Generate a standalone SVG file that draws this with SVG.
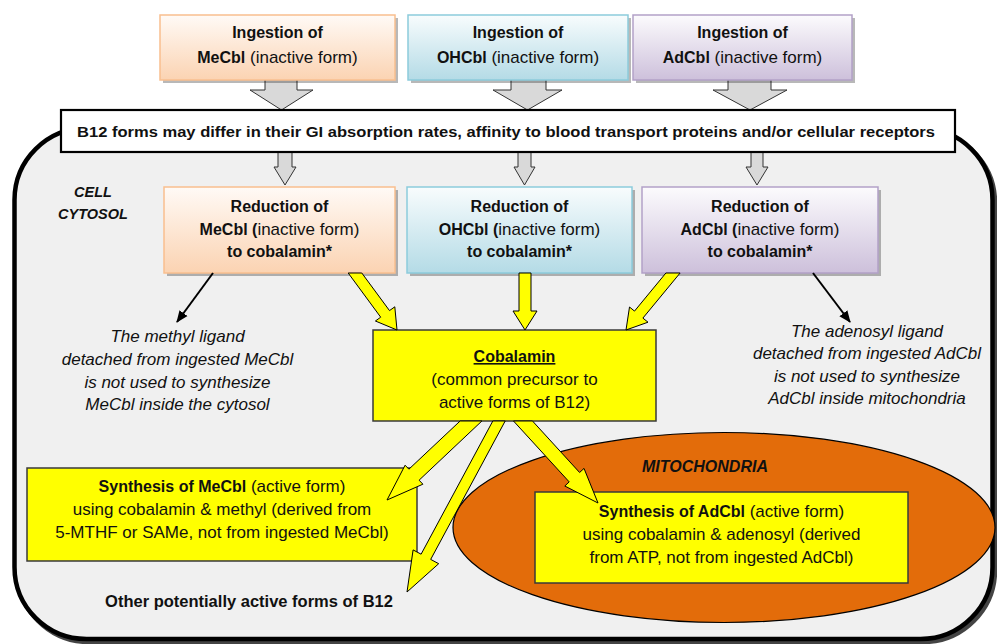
<svg xmlns="http://www.w3.org/2000/svg" width="997" height="644" viewBox="0 0 997 644">
<style>
text{font-family:"Liberation Sans",Arial,sans-serif;fill:#111}
.b{font-weight:bold;font-size:16px}
.r{font-weight:normal;font-size:17px}
.it{font-style:italic;font-size:17px}
.bi{font-style:italic;font-weight:bold}
.c{text-anchor:middle}
.ya{fill:#ffff00;stroke:#000;stroke-width:1}
.ga{fill:#d9d9d9;stroke:#333;stroke-width:1}
.sh{fill:#000;opacity:.28}
.yb{fill:#ffff00;stroke:#3a3a3a;stroke-width:1.5}
</style>
<defs>
<linearGradient id="gO" x1="0" y1="0" x2="0" y2="1"><stop offset="0" stop-color="#fffaf6"/><stop offset="1" stop-color="#fbd3b2"/></linearGradient>
<linearGradient id="gB" x1="0" y1="0" x2="0" y2="1"><stop offset="0" stop-color="#f8fcfd"/><stop offset="1" stop-color="#b4dbe6"/></linearGradient>
<linearGradient id="gP" x1="0" y1="0" x2="0" y2="1"><stop offset="0" stop-color="#fcfbfd"/><stop offset="1" stop-color="#cdc0db"/></linearGradient>
<marker id="ah" markerUnits="userSpaceOnUse" markerWidth="12" markerHeight="12" viewBox="0 0 12 12" refX="11" refY="6" orient="auto"><path d="M0,1 L12,6 L0,11 z" fill="#000"/></marker>
</defs>
<rect x="0" y="0" width="997" height="644" fill="#fff"/>

<g id="cell">
<rect x="17" y="131" width="978" height="511" rx="72" ry="72" fill="none" stroke="#444" stroke-width="4.5"/>
<rect x="14.5" y="128" width="978" height="511" rx="72" ry="72" fill="#f0f0f0" stroke="#000" stroke-width="4.5"/>
<text class="bi c" x="93" y="197" font-size="14.5">CELL</text>
<text class="bi c" x="93" y="219" font-size="14.5">CYTOSOL</text>
</g>

<g id="mitochondria">
<ellipse cx="724" cy="527.5" rx="271" ry="95" fill="#e36c0a" stroke="#000" stroke-width="1.2"/>
<text class="bi c" x="705" y="472" font-size="16">MITOCHONDRIA</text>
</g>

<g id="connectors">
<polygon class="ga" points="265,78 265,90 250,90 281.5,110 313,90 297,90 297,78"/>
<polygon class="ga" points="511,78 511,90 493,90 527.5,110 562,90 546,90 546,78"/>
<polygon class="ga" points="728,78 728,90 713,90 750,110 787,90 771,90 771,78"/>
<polygon class="ga" points="278,150 278,167 274,167 285,185 296,167 292,167 292,150"/>
<polygon class="ga" points="518,150 518,167 514,167 524.5,185 535,167 531,167 531,150"/>
<polygon class="ga" points="751,150 751,167 746,167 757,185 768,167 763,167 763,150"/>
</g>

<g id="ing-mecbl">
<rect class="sh" x="163" y="18" width="235" height="65"/>
<rect x="160" y="15" width="235" height="65" fill="url(#gO)" stroke="#f9bf8f" stroke-width="1.5"/>
<text class="b c" x="277.5" y="38">Ingestion of</text>
<text class="c" x="277.5" y="63"><tspan class="b">MeCbl</tspan><tspan class="r"> (inactive form)</tspan></text>
</g>
<g id="ing-ohcbl">
<rect class="sh" x="411" y="18" width="220" height="65"/>
<rect x="408" y="15" width="220" height="65" fill="url(#gB)" stroke="#8ccbdb" stroke-width="1.5"/>
<text class="b c" x="518" y="38">Ingestion of</text>
<text class="c" x="518" y="63"><tspan class="b">OHCbl</tspan><tspan class="r"> (inactive form)</tspan></text>
</g>
<g id="ing-adcbl">
<rect class="sh" x="636" y="18" width="219" height="65"/>
<rect x="633" y="15" width="219" height="65" fill="url(#gP)" stroke="#b2a1c7" stroke-width="1.5"/>
<text class="b c" x="742.5" y="38">Ingestion of</text>
<text class="c" x="742.5" y="63"><tspan class="b">AdCbl</tspan><tspan class="r"> (inactive form)</tspan></text>
</g>

<g id="banner">
<rect x="61" y="110" width="894" height="42" fill="#fff" stroke="#000" stroke-width="2.2"/>
<text x="77" y="137" font-weight="bold" font-size="15.5" textLength="858" lengthAdjust="spacingAndGlyphs">B12 forms may differ in their GI absorption rates, affinity to blood transport proteins and/or cellular receptors</text>
</g>

<g id="red-mecbl">
<rect class="sh" x="167" y="190" width="231" height="86"/>
<rect x="164" y="187" width="231" height="86" fill="url(#gO)" stroke="#f9bf8f" stroke-width="1.5"/>
<text class="b c" x="279.5" y="212">Reduction of</text>
<text class="c" x="279.5" y="235"><tspan class="b">MeCbl (</tspan><tspan class="r">inactive form)</tspan></text>
<text class="b c" x="279.5" y="257">to cobalamin*</text>
</g>
<g id="red-ohcbl">
<rect class="sh" x="410" y="190" width="225" height="86"/>
<rect x="407" y="187" width="225" height="86" fill="url(#gB)" stroke="#8ccbdb" stroke-width="1.5"/>
<text class="b c" x="519.5" y="212">Reduction of</text>
<text class="c" x="519.5" y="235"><tspan class="b">OHCbl (</tspan><tspan class="r">inactive form)</tspan></text>
<text class="b c" x="519.5" y="257">to cobalamin*</text>
</g>
<g id="red-adcbl">
<rect class="sh" x="645" y="190" width="236" height="86"/>
<rect x="642" y="187" width="236" height="86" fill="url(#gP)" stroke="#b2a1c7" stroke-width="1.5"/>
<text class="b c" x="760" y="212">Reduction of</text>
<text class="c" x="760" y="235"><tspan class="b">AdCbl (</tspan><tspan class="r">inactive form)</tspan></text>
<text class="b c" x="760" y="257">to cobalamin*</text>
</g>

<g id="methyl-note">
<text class="it c" x="177.5" y="342">The methyl ligand</text>
<text class="it c" x="177.5" y="365">detached from ingested MeCbl</text>
<text class="it c" x="177.5" y="388">is not used to synthesize</text>
<text class="it c" x="177.5" y="410">MeCbl inside the cytosol</text>
</g>
<g id="adenosyl-note">
<text class="it c" x="867" y="337">The adenosyl ligand</text>
<text class="it c" x="867" y="359">detached from ingested AdCbl</text>
<text class="it c" x="867" y="382">is not used to synthesize</text>
<text class="it c" x="867" y="404">AdCbl inside mitochondria</text>
</g>

<g id="cobalamin">
<rect class="yb" x="373" y="330" width="283" height="91"/>
<text class="b c" x="514.5" y="362" text-decoration="underline">Cobalamin</text>
<text class="r c" x="514.5" y="385">(common precursor to</text>
<text class="r c" x="514.5" y="408">active forms of B12)</text>
</g>

<g id="syn-mecbl">
<rect class="yb" x="27" y="468" width="390" height="93"/>
<text class="c" x="222" y="492"><tspan class="b">Synthesis of MeCbl</tspan><tspan class="r"> (active form)</tspan></text>
<text class="r c" x="222" y="515">using cobalamin &amp; methyl (derived from</text>
<text class="r c" x="222" y="538">5-MTHF or SAMe, not from ingested MeCbl)</text>
</g>

<g id="syn-adcbl">
<rect class="yb" x="535" y="492" width="373" height="91"/>
<text class="c" x="721.5" y="517"><tspan class="b">Synthesis of AdCbl</tspan><tspan class="r"> (active form)</tspan></text>
<text class="r c" x="721.5" y="540">using cobalamin &amp; adenosyl (derived</text>
<text class="r c" x="721.5" y="563">from ATP, not from ingested AdCbl)</text>
</g>

<g id="other-forms">
<text class="c" x="249" y="607" font-weight="bold" font-size="16.5">Other potentially active forms of B12</text>
</g>

<g id="flow-connectors">
<polygon class="ya" points="348.2,273 380.7,317.2 375.4,321 397,330 394.8,306.8 389.5,310.6 361.8,273"/>
<polygon class="ya" points="519,273 519,311 513,311 525,330 537,311 531,311 531,273"/>
<polygon class="ya" points="665.9,273 634.5,311.1 629.5,307 626,330 648,322.2 642.9,318.1 680.1,273"/>
<polygon class="ya" points="460.1,421 408.9,469.2 405.1,465.2 387,500 422.9,484.2 419.1,480.2 481.9,421"/>
<polygon class="ya" points="492.8,421 421.1,554.2 413.1,549.9 407,592 438.7,563.7 430.7,559.4 505.2,421"/>
<polygon class="ya" points="513.5,421 569.2,481.9 564.8,486 598,503 584,468.4 579.6,472.5 532.5,421"/>
<line x1="213" y1="273" x2="177" y2="322" stroke="#000" stroke-width="2" marker-end="url(#ah)"/>
<line x1="813" y1="273" x2="850" y2="322" stroke="#000" stroke-width="2" marker-end="url(#ah)"/>
</g>
</svg>
